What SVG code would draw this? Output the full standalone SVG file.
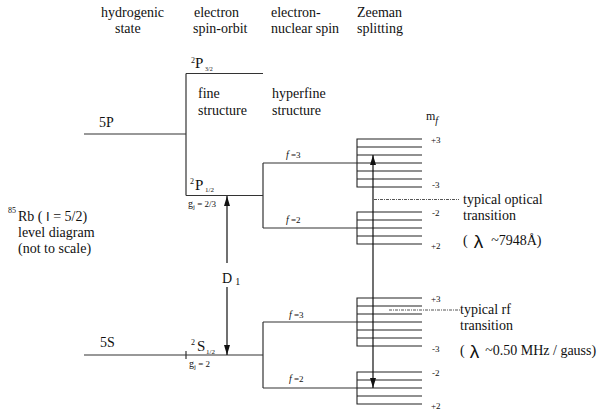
<svg xmlns="http://www.w3.org/2000/svg" width="610" height="416" viewBox="0 0 610 416" font-family="Liberation Serif, Times New Roman, serif">
  <style>
    .t { font-size: 14px; }
    .s { font-size: 8px; }
    .m { font-size: 9px; }
    .lam { font-family: "Liberation Sans", Arial, sans-serif; font-size: 19px; }
    .lv { stroke: #333; stroke-width: 1.2; fill: none; }
    .zl { stroke: #222; stroke-width: 1.1; fill: none; }
    .ar { stroke: #111; stroke-width: 1.2; fill: none; }
    .dd { stroke: #555; stroke-width: 1; stroke-dasharray: 3 1 1 1; fill: none; }
    .it { font-style: italic; }
  </style>
  <defs>
    <marker id="head" viewBox="0 0 10 6" refX="10" refY="3" markerWidth="10" markerHeight="6" markerUnits="userSpaceOnUse" orient="auto-start-reverse">
      <path d="M0,0 L10,3 L0,6 z" fill="#111"/>
    </marker>
  </defs>

  <g fill="#111">
  <!-- column headings -->
  <g id="headings" class="t">
    <text x="101" y="17">hydrogenic</text>
    <text x="115" y="33">state</text>
    <text x="194" y="17">electron</text>
    <text x="193" y="33">spin-orbit</text>
    <text x="271" y="17">electron-</text>
    <text x="271" y="33">nuclear spin</text>
    <text x="357" y="17">Zeeman</text>
    <text x="357" y="33">splitting</text>
  </g>

  <!-- side caption -->
  <g id="caption">
    <text x="8" y="213" class="s">85</text>
    <text x="18" y="221" class="t">Rb ( <tspan font-family="Liberation Sans, Arial, sans-serif" font-size="13">I</tspan> = 5/2)</text>
    <text x="18" y="237" class="t">level diagram</text>
    <text x="18" y="253" class="t">(not to scale)</text>
  </g>

  <g id="structure-labels" class="t">
    <text x="198" y="98">fine</text>
    <text x="198" y="115">structure</text>
    <text x="272" y="98">hyperfine</text>
    <text x="272" y="115">structure</text>
  </g>

  <!-- 5P hydrogenic level -->
  <g id="level-5P">
    <line class="lv" x1="84" y1="134" x2="186" y2="134"/>
    <text x="99" y="127" class="t">5P</text>
  </g>

  <!-- fine structure of 5P -->
  <g id="level-2P32">
    <line class="lv" x1="186" y1="73.5" x2="263" y2="73.5"/>
    <text x="191" y="63" class="s">2</text>
    <text x="195" y="68" font-size="15">P</text>
    <text x="205" y="71" font-size="6">3/2</text>
  </g>
  <g id="level-2P12">
    <line class="lv" x1="186" y1="73.5" x2="186" y2="195.5"/>
    <line class="lv" x1="186" y1="195.5" x2="263" y2="195.5"/>
    <text x="190" y="184" class="s">2</text>
    <text x="195" y="190" font-size="15">P</text>
    <text x="205" y="192" font-size="7">1/2</text>
    <text x="188" y="207" font-size="10">g<tspan font-size="7" dy="2">j</tspan><tspan dy="-2" font-size="9"> = 2/3</tspan></text>
  </g>

  <!-- hyperfine levels of 5P -->
  <g id="hf-5P">
    <line class="lv" x1="263" y1="163" x2="263" y2="228"/>
    <line class="lv" x1="263" y1="163" x2="357" y2="163"/>
    <line class="lv" x1="263" y1="228" x2="357" y2="228"/>
    <text x="286" y="158" class="m"><tspan class="it" font-size="10">f</tspan> =3</text>
    <text x="286" y="223" class="m"><tspan class="it" font-size="10">f</tspan> =2</text>
  </g>

  <!-- Zeeman sublevels of 5P -->
  <g id="zeeman-5P-f3">
    <path class="zl" d="M422,139H357V187H422M357,147H422M357,155H422M357,163H422M357,171H422M357,179H422"/>
    <text x="431" y="142.5" class="m">+3</text>
    <text x="432" y="188" class="m">-3</text>
  </g>
  <g id="zeeman-5P-f2">
    <path class="zl" d="M422,212H357V244H422M357,220H422M357,228H422M357,236H422"/>
    <text x="432" y="215.5" class="m">-2</text>
    <text x="431" y="249" class="m">+2</text>
  </g>
  <g id="mf-label">
    <text x="426" y="120" font-size="12">m<tspan class="it" font-size="10" dy="4">f</tspan></text>
  </g>

  <!-- 5S hydrogenic level and its fine structure -->
  <g id="level-5S">
    <line class="lv" x1="84" y1="355" x2="263" y2="355"/>
    <text x="100" y="347" class="t">5S</text>
  </g>
  <g id="level-2S12">
    <line class="lv" x1="186" y1="351" x2="186" y2="359"/>
    <text x="191" y="345" class="s">2</text>
    <text x="197" y="351" font-size="15">S</text>
    <text x="206" y="354" font-size="7">1/2</text>
    <text x="189" y="367" font-size="10">g<tspan font-size="7" dy="2">j</tspan><tspan dy="-2" font-size="9"> = 2</tspan></text>
  </g>

  <!-- hyperfine levels of 5S -->
  <g id="hf-5S">
    <line class="lv" x1="263" y1="322" x2="263" y2="388"/>
    <line class="lv" x1="263" y1="322" x2="357" y2="322"/>
    <line class="lv" x1="263" y1="388" x2="357" y2="388"/>
    <text x="289" y="318" class="m"><tspan class="it" font-size="10">f</tspan> =3</text>
    <text x="289" y="382" class="m"><tspan class="it" font-size="10">f</tspan> =2</text>
  </g>

  <!-- Zeeman sublevels of 5S -->
  <g id="zeeman-5S-f3">
    <path class="zl" d="M422,298H357V346H422M357,306H422M357,314H422M357,322H422M357,330H422M357,338H422"/>
    <text x="431" y="302" class="m">+3</text>
    <text x="432" y="352" class="m">-3</text>
  </g>
  <g id="zeeman-5S-f2">
    <path class="zl" d="M422,372H357V404H422M357,380H422M357,388H422M357,396H422"/>
    <text x="432" y="376" class="m">-2</text>
    <text x="431" y="409" class="m">+2</text>
  </g>

  <!-- transition notes -->
  <g id="note-optical" class="t">
    <text x="463" y="204">typical optical</text>
    <text x="463" y="220">transition</text>
    <text x="463" y="245">(<tspan class="lam" dx="6" dy="3">λ</tspan><tspan dx="8" dy="-3">~7948Å)</tspan></text>
  </g>
  <g id="note-rf" class="t">
    <text x="460" y="314">typical rf</text>
    <text x="460" y="330">transition</text>
    <text x="460" y="355">(<tspan class="lam" dx="5" dy="3">λ</tspan><tspan dx="6" dy="-3">~0.50 MHz / gauss)</tspan></text>
  </g>
  <g id="D1-label">
    <text x="222" y="283" class="t">D<tspan font-size="10" dx="3" dy="2">1</tspan></text>
  </g>
  </g>

  <!-- connectors -->
  <g id="connectors">
    <line class="ar" x1="227" y1="263" x2="227" y2="196" marker-end="url(#head)"/>
    <line class="ar" x1="227" y1="287" x2="227" y2="355" marker-end="url(#head)"/>
    <line class="ar" x1="373" y1="155" x2="373" y2="388" marker-start="url(#head)" marker-end="url(#head)"/>
    <line class="dd" x1="374" y1="199.5" x2="459" y2="199.5"/>
    <line class="dd" x1="389" y1="310" x2="460" y2="310"/>
  </g>
</svg>
